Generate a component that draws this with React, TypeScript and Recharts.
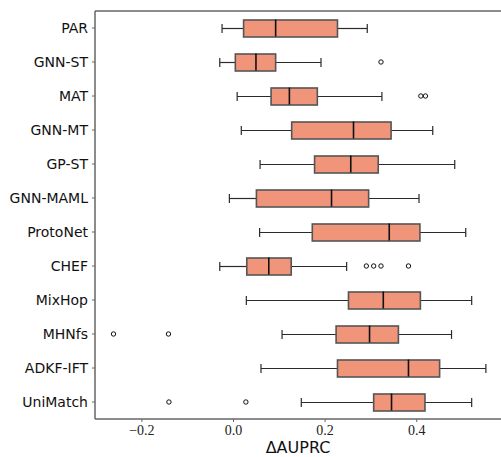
import React from 'react';
import { ComposedChart, Bar, Line, XAxis, YAxis } from 'recharts';

const categories = ['PAR', 'GNN-ST', 'MAT', 'GNN-MT', 'GP-ST', 'GNN-MAML', 'ProtoNet', 'CHEF', 'MixHop', 'MHNfs', 'ADKF-IFT', 'UniMatch'];
const whiskerLow = [-0.025, -0.030, 0.008, 0.017, 0.058, -0.009, 0.057, -0.030, 0.028, 0.106, 0.060, 0.148];
const q1 = [0.022, 0.004, 0.082, 0.127, 0.177, 0.050, 0.172, 0.029, 0.251, 0.224, 0.227, 0.306];
const median = [0.092, 0.049, 0.122, 0.262, 0.256, 0.214, 0.340, 0.077, 0.327, 0.297, 0.382, 0.345];
const q3 = [0.227, 0.092, 0.183, 0.344, 0.316, 0.295, 0.407, 0.126, 0.408, 0.360, 0.450, 0.418];
const whiskerHigh = [0.292, 0.191, 0.324, 0.435, 0.483, 0.405, 0.507, 0.247, 0.520, 0.476, 0.551, 0.520];
const outliers: number[][] = [[], [0.322], [0.409, 0.419], [], [], [], [], [0.290, 0.306, 0.322, 0.382], [], [-0.262, -0.142], [], [-0.141, 0.027]];
const xTicks = [-0.2, 0.0, 0.2, 0.4];
const xDomain: [number, number] = [-0.3024, 0.584];

const data = categories.map((name, i) => ({
  name,
  low: whiskerLow[i],
  q1: q1[i],
  median: median[i],
  q3: q3[i],
  high: whiskerHigh[i],
  o1: outliers[i][0] ?? null,
  o2: outliers[i][1] ?? null,
  o3: outliers[i][2] ?? null,
  o4: outliers[i][3] ?? null,
}));

const BOX = 17;
const FILL = '#F0957A';
const EDGE = '#555555';
const WHISK = '#2a2a2a';
const AXIS = '#666666';

const LowerWhisker = (p: any) => {
  const { x, y, width, height } = p;
  if (typeof x !== 'number') return <g />;
  const cy = y + height / 2;
  return (
    <g>
      <line x1={x} x2={x + width} y1={cy} y2={cy} stroke={WHISK} strokeWidth={1.2} />
      <line x1={x} x2={x} y1={cy - 4.4} y2={cy + 4.4} stroke={WHISK} strokeWidth={1.2} />
    </g>
  );
};

const UpperWhisker = (p: any) => {
  const { x, y, width, height } = p;
  if (typeof x !== 'number') return <g />;
  const cy = y + height / 2;
  return (
    <g>
      <line x1={x} x2={x + width} y1={cy} y2={cy} stroke={WHISK} strokeWidth={1.2} />
      <line x1={x + width} x2={x + width} y1={cy - 4.4} y2={cy + 4.4} stroke={WHISK} strokeWidth={1.2} />
    </g>
  );
};

const BoxShape = (p: any) => {
  const { x, y, width, height } = p;
  if (typeof x !== 'number') return <g />;
  return <rect x={x} y={y} width={width} height={height} fill={FILL} stroke={EDGE} strokeWidth={1.6} />;
};

const MedianDot = (p: any) => {
  const { cx, cy, index } = p;
  if (typeof cx !== 'number' || typeof cy !== 'number' || isNaN(cx)) return <g key={`m${index}`} />;
  return <line key={`m${index}`} x1={cx} x2={cx} y1={cy - BOX / 2} y2={cy + BOX / 2} stroke="#111111" strokeWidth={1.6} />;
};

const OutlierDot = (p: any) => {
  const { cx, cy, index, dataKey } = p;
  if (typeof cx !== 'number' || typeof cy !== 'number' || isNaN(cx) || p.value == null) return <g key={`o${dataKey}${index}`} />;
  return <circle key={`o${dataKey}${index}`} cx={cx} cy={cy} r={2.2} fill="none" stroke="#111111" strokeWidth={1} />;
};

const fmt = (v: number) => (v < 0 ? '\u2212' + Math.abs(v).toFixed(1) : v.toFixed(1));

const XTick = (p: any) => {
  const { x, y, payload } = p;
  return (
    <text x={x} y={y} dy="0.71em" textAnchor="middle" fill="#222" style={{ fontFamily: "'Liberation Serif', serif", fontSize: 14 }}>
      {fmt(payload.value)}
    </text>
  );
};

export default function App() {
  return (
    <div style={{ position: 'absolute', left: 0, top: 0, width: 501, height: 457, background: '#fff' }}>
      <ComposedChart
        width={501}
        height={457}
        layout="vertical"
        data={data}
        margin={{ top: 10, right: 0, bottom: 0, left: 0 }}
        barSize={BOX}
        barGap={-BOX}
      >
        <XAxis
          type="number"
          domain={xDomain}
          allowDataOverflow
          ticks={xTicks}
          height={38}
          tickSize={3}
          tickMargin={3}
          axisLine={{ stroke: AXIS, strokeWidth: 1.5 }}
          tickLine={{ stroke: AXIS }}
          tick={<XTick />}
          label={{ value: '\u0394AUPRC', position: 'insideBottom', offset: 4, fill: '#111', fontFamily: 'DejaVu Sans', fontSize: 16 }}
        />
        <XAxis
          xAxisId="top"
          orientation="top"
          type="number"
          domain={xDomain}
          allowDataOverflow
          height={1}
          tick={false}
          tickLine={false}
          axisLine={{ stroke: AXIS, strokeWidth: 1.5 }}
        />
        <YAxis
          type="category"
          dataKey="name"
          width={95}
          tickSize={3}
          tickMargin={4}
          interval={0}
          axisLine={{ stroke: AXIS, strokeWidth: 1.5 }}
          tickLine={{ stroke: AXIS }}
          tick={{ fill: '#111', fontFamily: 'DejaVu Sans', fontSize: 14 }}
        />
        <Bar dataKey={(d: any) => [d.low, d.q1]} shape={LowerWhisker} isAnimationActive={false} />
        <Bar dataKey={(d: any) => [d.q3, d.high]} shape={UpperWhisker} isAnimationActive={false} />
        <Bar dataKey={(d: any) => [d.q1, d.q3]} shape={BoxShape} isAnimationActive={false} />
        <Line dataKey="median" stroke="none" dot={MedianDot} activeDot={false} isAnimationActive={false} />
        <Line dataKey="o1" stroke="none" dot={OutlierDot} activeDot={false} isAnimationActive={false} />
        <Line dataKey="o2" stroke="none" dot={OutlierDot} activeDot={false} isAnimationActive={false} />
        <Line dataKey="o3" stroke="none" dot={OutlierDot} activeDot={false} isAnimationActive={false} />
        <Line dataKey="o4" stroke="none" dot={OutlierDot} activeDot={false} isAnimationActive={false} />
      </ComposedChart>
    </div>
  );
}
